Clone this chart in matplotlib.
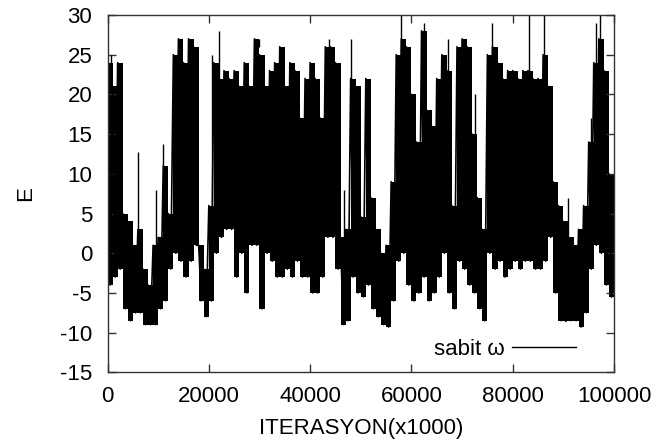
import numpy as np
import matplotlib
matplotlib.use("Agg")
import matplotlib.pyplot as plt

plt.rcParams['font.family'] = ['Liberation Sans', 'DejaVu Sans']

# envelope of E per 1000-iteration bin
bin_width = 1000
hi = [24, 21, 24, 5, 4, 1, 3, -2, -4, 1,
      2, 11, 5, 25, 27, 24, 27, 26, 1, -2,
      6, 24, 22, 23, 22, 23, 21, 24, 21, 27,
      25, 21, 23, 24, 26, 21, 24, 23, 17, 22,
      24, 22, 17, 26, 26, 24, 2, 3, 22, 21,
      4.6, 22, 7, 3, 0, 1, 9, 25, 27, 26,
      20, 14, 28, 18, 16, 22, 25, 23, 6, 26,
      27, 26, 15, 7, 3, 25, 26, 24, 22, 23,
      23, 22, 23, 23, 22, 22, 25, 21, 9, 6,
      4, 2, 1, 3, 6, 14, 24, 27, 23, 10]
lo = [-4, -3, -2, -7, -8.5, -7.5, -7.5, -9, -9, -9,
      -7, -6, -2, 0, -1, -3, -1, 1, -6, -8,
      -6, 0, 2, 3, 3, -3, 0, -5, 1, 1,
      -7, 0, -1, -3, -3, -2, -3, -1, -3, -3,
      -5, -5, -3, 2, 2, -2, -9, -8.5, -3, -5,
      -5.5, -4, -7, -8, -9, -9.3, -6, -1, 0, -4,
      -6, -5, -3, -6, -5, -3, 0, -5, -7, -1,
      -2, -4, -5, -7, -8.5, 0, -2, -1, -3, -2,
      -1, -2, -1, -1, -2, -2, -1, 2, -5, -8.5,
      -8.6, -8.5, -8.5, -9.3, -7.5, -2, 1, 0, -4, -5.5]
# isolated spikes (iteration, top value)
spike_x = [600, 2300, 6000, 9500, 11000, 20600, 22100, 29900, 43700,
           46700, 48100, 57900, 62500, 67200, 72500, 75900, 83200, 86200,
           91000, 95500, 96500, 97200]
spike_y = [25, 24, 12.8, 8, 13.8, 25, 28, 26, 27,
           8, 27, 30, 29, 27, 20, 29, 30, 30,
           7, 17, 29, 30]

xticks = [0, 20000, 40000, 60000, 80000, 100000]
yticks = [-15, -10, -5, 0, 5, 10, 15, 20, 25, 30]

n = len(hi)
centers = np.arange(n) * bin_width + bin_width / 2
hi_a = np.array(hi, dtype=float)
lo_a = np.array(lo, dtype=float)
# extend to the axis edges
xe = np.concatenate([[0], centers, [n * bin_width]])
hie = np.concatenate([[hi_a[0]], hi_a, [hi_a[-1]]])
loe = np.concatenate([[lo_a[0]], lo_a, [lo_a[-1]]])

fig = plt.figure(figsize=(6.67, 4.43), dpi=100)
ax = fig.add_axes([0.1612, 0.1596, 0.7594, 0.8065])

ax.fill_between(xe, loe, hie, step='mid', color='black', lw=0)
# zigzag trace through the envelope for a jagged edge
xs, ys = [], []
for i in range(n):
    xs += [i * bin_width, i * bin_width + bin_width / 2]
    ys += [hi[i], lo[i]]
ax.plot(xs, ys, color='black', lw=1.2, label='sabit ω')
bins_of_spikes = [int(x // bin_width) for x in spike_x]
ax.vlines(spike_x, [hi[b] for b in bins_of_spikes], spike_y, color='black', lw=1.0)

ax.set_xlim(0, 100000)
ax.set_ylim(-15, 30)
ax.set_xticks(xticks)
ax.set_yticks(yticks)
ax.set_xticklabels([str(v) for v in xticks])
ax.set_yticklabels([str(v) for v in yticks])
ax.tick_params(axis='both', direction='in', top=True, right=True, length=6, width=1,
               labelsize=16, colors='#333333', labelcolor='black')
ax.tick_params(axis='y', pad=11)
ax.tick_params(axis='x', pad=10)
for s in ax.spines.values():
    s.set_color('#333333')
    s.set_linewidth(1.0)

ax.set_xlabel('ITERASYON(x1000)', fontsize=16, labelpad=8)
ax.set_ylabel('E', fontsize=16, labelpad=17)

leg = ax.legend(loc='center right', frameon=False, fontsize=16, markerfirst=False,
                handlelength=2.9, handletextpad=0.3, borderaxespad=0, borderpad=0,
                bbox_to_anchor=(0.925, 0.065))
for h in leg.get_lines():
    h.set_linewidth(1.0)

fig.savefig('out.png', dpi=100)
